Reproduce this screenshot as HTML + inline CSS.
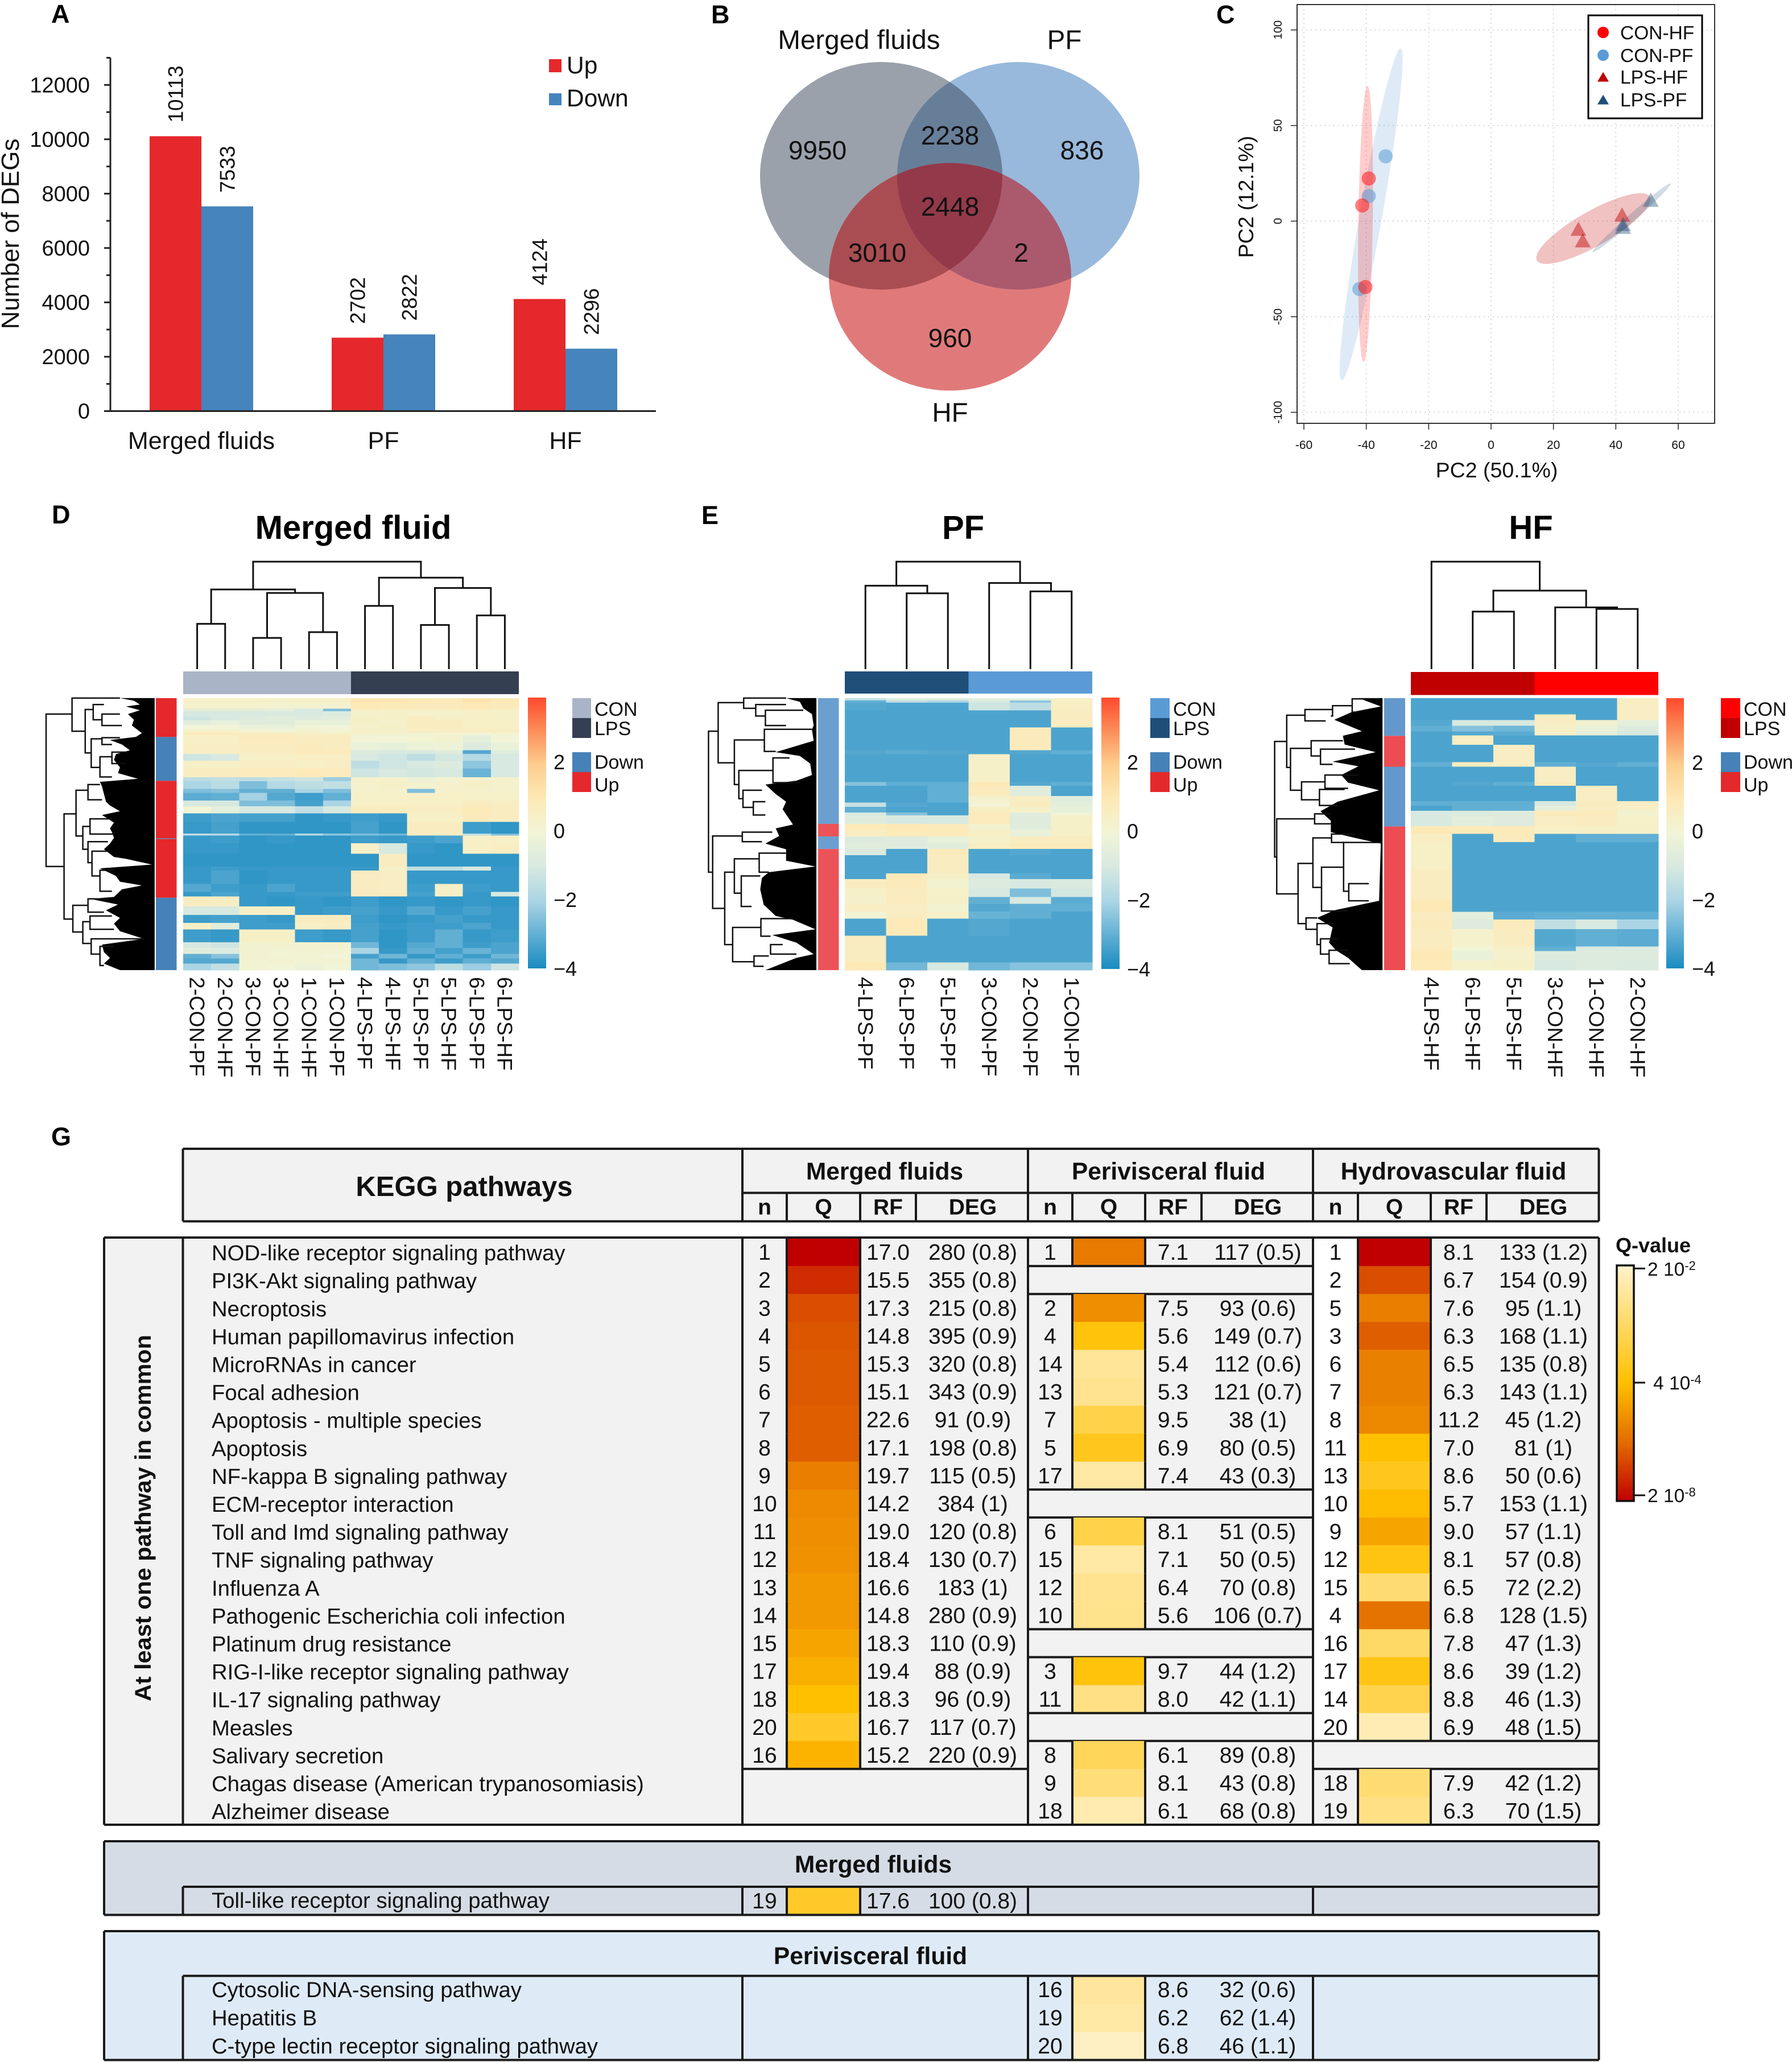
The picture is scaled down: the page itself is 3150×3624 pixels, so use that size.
<!DOCTYPE html>
<html lang="en">
<head>
<meta charset="utf-8">
<title>DEG analysis figure</title>
<style>
html,body{margin:0;padding:0;background:#fff;}
svg{display:block;font-family:"Liberation Sans",Arial,sans-serif;fill:#000;}
</style>
</head>
<body>
<svg xmlns="http://www.w3.org/2000/svg" width="3150" height="3624" viewBox="0 0 3150 3624">
<defs id="defs"></defs>
<rect x="0" y="0" width="3150" height="3624" fill="#ffffff"/>
<g id="panel-a"></g>
<g id="panel-b"></g>
<g id="panel-c"></g>
<g id="panel-d"></g>
<g id="panel-e"></g>
<g id="panel-f"></g>
<g id="panel-g"></g>
<g id="panel-letters"></g>
</svg>
<script>
/* ---------- Panel A data ---------- */
const degCategories=['Merged fluids','PF','HF'];
const degUp=[10113,2702,4124];
const degDown=[7533,2822,2296];
const degTicks=[0,2000,4000,6000,8000,10000,12000];
const degMinorTicks=[1000,3000,5000,7000,9000,11000,13000];
/* ---------- Panel B data ---------- */
const vennCounts=[9950,2238,836,3010,2448,2,960];
const vennSets=['Merged fluids','PF','HF'];
/* ---------- Panel C data (data units) ---------- */
const pcaXTicks=[-60,-40,-20,0,20,40,60];
const pcaYTicks=[-100,-50,0,50,100];
const conHfX=[-39.2,-41.3,-40.3];
const conHfY=[22.3,8.2,-34.5];
const conPfX=[-33.8,-39.2,-42.2];
const conPfY=[33.9,13.1,-35.5];
const lpsHfX=[28.0,29.4,42.0];
const lpsHfY=[-4,-10,3.4];
const lpsPfX=[51.2,42.3,42.3];
const lpsPfY=[11.2,-1.5,-3];
const pcaLegend=['CON-HF','CON-PF','LPS-HF','LPS-PF'];
/* ellipse major-axis tips x1,y1,x2,y2 and half width */
const conHfEllipse=[-39.6,70.8,-40.9,-73.7,2.3];
const conPfEllipse=[-29,90.3,-47.9,-83.2,3.6];
const lpsHfEllipse=[50.9,12.8,14.7,-20.6,5.6];
const lpsPfEllipse=[57.6,19.7,32.6,-16.2,1.2];
/* ---------- Heatmap data: [rows, ...z-score per column] ---------- */
const heatTicks=[2,0,-2,-4];
const mergedColumns=['2-CON-PF','2-CON-HF','3-CON-PF','3-CON-HF','1-CON-HF','1-CON-PF','4-LPS-PF','4-LPS-HF','5-LPS-PF','5-LPS-HF','6-LPS-PF','6-LPS-HF'];
const mergedCells=[
[12,.4,.4,.4,.4,.5,.5,1.1,1.1,1,.9,1.2,1],
[15,.3,.3,.3,.2,.2,.2,1,.9,.8,.8,1,.8],
[7,-.5,-.5,-.5,-.5,-1,-2.6,.6,.5,.5,.5,.6,.5],
[12,-1,-1,-1,-.9,-1,-.8,.3,.4,.3,.3,.5,.4],
[11,-1.2,-1,-.7,-.6,-.7,-.6,.4,.4,.7,.5,.5,.4],
[12,-.6,-.4,-.6,-.6,-.3,-.4,.4,.3,.7,.7,.4,.4],
[11,0,0,-.3,-.4,0,0,.3,.4,.7,.7,.5,.5],
[9,.3,.3,.1,0,.2,.1,.5,.4,.6,.6,.6,.6],
[6,1,.9,.7,.7,.5,.5,.2,.2,.1,.2,0,.2],
[20,.5,.5,.8,.8,.7,.7,0,0,.1,.2,-.5,0],
[19,.6,.6,.7,.7,.8,.7,-.3,-.4,-.2,-.1,-.8,-.3],
[10,.6,.6,.6,.6,.8,.8,-.9,-1,-1,-.7,-3.2,-.7],
[17,-1.2,-1,.5,.5,.6,.6,-1,-1.2,-1.6,-1.1,-1.8,-1],
[20,.5,.5,.6,.6,.5,.6,-1.6,-1.2,-1,-.8,-2.4,-1],
[23,.7,.7,.8,.8,.9,.8,-1.2,-1,-1.1,-1,-2.9,-1],
[10,-1.6,-1.5,-1.6,-1.4,-1.2,-2.2,.3,.3,-.2,.2,.3,.3],
[20,-2,-1.7,-2.6,-1.8,-1.6,-1.5,.3,.4,.2,.3,.4,.3],
[10,-2.6,-2.5,-3,-3,-2,-2.6,.3,.3,-2.6,.3,.3,.3],
[20,-3.1,-3,-2.1,-3.2,-3.5,-3,.4,.4,.5,.5,.4,.4],
[15,-1,-1,-2.6,-2.6,-3.4,-2,.5,.5,.5,.5,.7,.6],
[18,0,-.5,-1,-1,-1.5,-1,.7,.7,.6,.6,.9,.7],
[22,-3.5,-3.3,-3.4,-3.4,-3.7,-3.6,-3.5,-3.6,.5,.5,.8,.7],
[30,-3.6,-3.4,-3.7,-3.7,-3.7,-3.7,-3.4,-3.7,.7,.7,-3.5,-3.7],
[5,-1.6,-1.8,-3,-3,-1.8,-2.4,-2.6,-2.8,.6,.6,-1.5,-2.6],
[20,-3.6,-3.5,-3.7,-3.6,-3.7,-3.7,-3.5,-3.6,-3.5,-3.3,.5,.5],
[27,-3.6,-3.6,-3.7,-3.7,-3.7,-3.7,.5,-1,-3.6,-3.7,.5,.6],
[33,-3.7,-3.7,-3.7,-3.7,-3.7,-3.7,-3.7,.7,-3.7,-3.7,-3.7,-3.7],
[10,-3.6,-3.5,-3.6,-3.6,-3.6,-3.6,-3.6,.5,-1.5,-1.5,-1,-3.6],
[35,-3.6,-3.3,-3.7,-3.6,-3.6,-3.6,.7,.6,-3.6,-3.6,-3.6,-3.6],
[20,-3.2,-3.5,-3.6,-3.3,-3.6,-3.6,.7,.6,-3.5,.5,-3.5,-3.6],
[12,-3.6,-3.3,-3.6,-3.6,-3.5,-3.5,.7,.7,-3.4,.4,-3.6,-1],
[26,.7,.6,-3.6,-3.7,-3.6,-3.7,-3.5,-3.7,-3.6,-3.7,-3.6,-3.7],
[22,-1,-1,.5,.5,-3.6,-3.5,-3.4,-3.6,-3.2,-3.6,-3.4,-3.6],
[20,-3.5,-3.4,-3.5,-3.6,.7,.7,-3.5,-3.7,-3.6,-3.4,-3.6,-3.6],
[17,.5,-.6,-3.5,-3.5,.5,.6,-3.4,-3.6,-3.5,-3.5,-3.3,-3.6],
[33,-3.5,-3.6,.5,.5,-3.5,-3.6,-3.4,-3.7,-3.5,-3,-3.6,-3.5],
[15,-1,-1.2,.2,.2,.2,.2,-2.8,-3.7,-3.2,-3,-3.5,-3.3],
[15,-.6,-.8,.2,.1,.2,.1,-2,-3.6,-3,-3.4,-2.9,-3.3],
[12,-3,-2.5,.2,.1,.1,0,-3.4,-2.8,-3.6,-3,-3.5,-2.8],
[13,-3.2,-3.2,.1,.2,.1,.1,-2.8,-3.6,-3,-3.5,-3,-3.2],
[17,-2,-1.5,.1,0,-.2,0,-2.8,-2.6,-2.4,-1.6,-2.2,-1.2]
];
const pfColumns=['4-LPS-PF','6-LPS-PF','5-LPS-PF','3-CON-PF','2-CON-PF','1-CON-PF'];
const pfCells=[
[6,-1.5,-.6,-.8,-.5,-.5,.5],
[6,-3,-1.6,-2,-1,-2.4,.5],
[20,-3.2,-3.3,-3.3,-1.2,-1.6,.6],
[45,-3.3,-3.3,-3.3,-3.3,-3.3,.7],
[60,-3.3,-3.3,-3.3,-3.3,.8,-3.3],
[10,-3.2,-3.1,-3.2,-3.3,-3.2,-3],
[73,-3.3,-3.3,-3.3,.4,-3.3,-3.3],
[10,-2.5,-3,-3,1,-3.2,-3],
[27,-3.3,-3.3,-3,.8,-.6,-3.3],
[17,-3.3,-3.3,-3,.3,.6,-.6],
[11,-1.4,-3.2,-3.3,0,.7,-.5],
[15,-3,-3.3,-3.3,.6,.4,-.4],
[8,-1,-2.5,-3.3,.9,-.6,0],
[22,-.7,-1,-1,.8,-.7,.4],
[16,.9,1,.8,.2,-.6,.4],
[17,.6,.9,.9,.5,-.3,.5],
[17,-.8,-.7,-.4,.4,.7,.7],
[16,-.6,-.7,-.6,.6,.8,.8],
[16,-.9,-3.3,.8,-3.3,-3.2,-3.3],
[48,-3.3,-3.3,.7,-3.3,-3.3,-3.3],
[15,-3.3,.9,.5,-1,-3.1,-3.3],
[25,.7,.8,.2,-.8,-1,-.9],
[22,.4,.7,.4,-1,-2.6,-1.1],
[18,.3,.8,.4,-3,-1,-3.1],
[20,.6,.6,.2,-3.2,-3,-3],
[19,.1,.7,.4,-2.9,-3,-3.3],
[45,-3.3,.9,-3.3,-3.2,-3.3,-3.3],
[70,.7,-3.3,-3.3,-3.3,-3.3,-3.3],
[20,1,-2.8,-1,-2.8,-2.5,-2.5]
];
const hfColumns=['4-LPS-HF','6-LPS-HF','5-LPS-HF','3-CON-HF','1-CON-HF','2-CON-HF'];
const hfCells=[
[42,-3.3,-3.3,-3.3,-3.3,-3.3,.6],
[15,-3.3,-3.3,-3.3,.7,-3.3,.6],
[15,-3.2,-1,-1,.6,.2,-.5],
[15,-3,-2.5,-2.8,.5,-.3,-.8],
[10,-3.3,-3.2,-3.1,.4,-.5,-1],
[25,-3.3,.6,-3.3,-3.3,-3.3,-3.3],
[45,-3.3,-3.3,.6,-3.3,-3.3,-3.3],
[12,-3,.7,.6,-3,-3.2,-3],
[40,-3.3,-3.3,-3.3,.6,-3.3,-3.3],
[10,-3.3,-3.2,-3,.8,-3.3,-3.3],
[40,-3.3,-3.3,-3.3,-3.3,.6,-3.3],
[12,-3,-3,-3,-1,.7,.6],
[13,-3.3,-3,-3,-.5,.6,.5],
[15,-1,-.8,-.7,.8,.8,.2],
[25,-1,-.5,-.7,.6,.7,.4],
[20,1,.9,.9,.5,.5,.4],
[22,.6,-3.3,.8,-3.3,-3,-3],
[70,.5,-3.3,-3.3,-3.3,-3.3,-3.3],
[80,.7,-3.3,-3.3,-3.3,-3.3,-3.3],
[32,1,-3.3,-3.3,-3.3,-3.3,-3.3],
[20,.7,-.5,-3.1,-3,-3,-3],
[25,.8,-.7,.8,-1.5,-1,-2],
[45,.7,.3,.7,-3.2,-3,-3.1],
[12,.8,0,.4,-3,-.9,-.8],
[25,1,-.3,.3,-.8,-.8,-.8],
[25,.9,.3,.4,-1,-.8,-.9]
];
/* ---------- Panel G data ---------- */
const pathways=['NOD-like receptor signaling pathway','PI3K-Akt signaling pathway','Necroptosis','Human papillomavirus infection','MicroRNAs in cancer','Focal adhesion','Apoptosis - multiple species','Apoptosis','NF-kappa B signaling pathway','ECM-receptor interaction','Toll and Imd signaling pathway','TNF signaling pathway','Influenza A','Pathogenic Escherichia coli infection','Platinum drug resistance','RIG-I-like receptor signaling pathway','IL-17 signaling pathway','Measles','Salivary secretion','Chagas disease (American trypanosomiasis)','Alzheimer disease'];
const mergedN=[1,2,3,4,5,6,7,8,9,10,11,12,13,14,15,17,18,20,16,null,null];
const mergedQ=[-7.7,-6.84,-6.15,-5.98,-5.9,-5.9,-5.8,-5.8,-5.1,-4.78,-4.69,-4.6,-4.43,-4.43,-4.09,-3.83,-3.4,-3.06,-3.74,null,null];
const mergedRF=['17.0','15.5','17.3','14.8','15.3','15.1','22.6','17.1','19.7','14.2','19.0','18.4','16.6','14.8','18.3','19.4','18.3','16.7','15.2',null,null];
const mergedDEG=['280 (0.8)','355 (0.8)','215 (0.8)','395 (0.9)','320 (0.8)','343 (0.9)','91 (0.9)','198 (0.8)','115 (0.5)','384 (1)','120 (0.8)','130 (0.7)','183 (1)','280 (0.9)','110 (0.9)','88 (0.9)','96 (0.9)','117 (0.7)','220 (0.9)',null,null];
const pfN=[1,null,2,4,14,13,7,5,17,null,6,15,12,10,null,3,11,null,8,9,18];
const pfQ=[-5.2,null,-4.69,-3.3,-2.14,-2.2,-2.79,-3.16,-2.04,null,-2.79,-2.04,-2.2,-2.24,null,-3.3,-2.3,null,-2.65,-2.38,-1.94];
const pfRF=['7.1',null,'7.5','5.6','5.4','5.3','9.5','6.9','7.4',null,'8.1','7.1','6.4','5.6',null,'9.7','8.0',null,'6.1','8.1','6.1'];
const pfDEG=['117 (0.5)',null,'93 (0.6)','149 (0.7)','112 (0.6)','121 (0.7)','38 (1)','80 (0.5)','43 (0.3)',null,'51 (0.5)','50 (0.5)','70 (0.8)','106 (0.7)',null,'44 (1.2)','42 (1.1)',null,'89 (0.8)','43 (0.8)','68 (0.8)'];
const hfN=[1,2,5,3,6,7,8,11,13,10,9,12,15,4,16,17,14,20,null,18,19];
const hfQ=[-7.7,-6.15,-5.1,-5.8,-5.03,-5.03,-4.86,-3.4,-3.16,-3.49,-4.09,-3.26,-2.45,-5.38,-2.55,-3.23,-2.75,-1.9,null,-2.45,-2.3];
const hfRF=['8.1','6.7','7.6','6.3','6.5','6.3','11.2','7.0','8.6','5.7','9.0','8.1','6.5','6.8','7.8','8.6','8.8','6.9',null,'7.9','6.3'];
const hfDEG=['133 (1.2)','154 (0.9)','95 (1.1)','168 (1.1)','135 (0.8)','143 (1.1)','45 (1.2)','81 (1)','50 (0.6)','153 (1.1)','57 (1.1)','57 (0.8)','72 (2.2)','128 (1.5)','47 (1.3)','39 (1.2)','46 (1.3)','48 (1.5)',null,'42 (1.2)','70 (1.5)'];
const mergedOnlyRow=['Toll-like receptor signaling pathway',19,-3.06,'17.6','100 (0.8)'];
const pfOnlyNames=['Cytosolic DNA-sensing pathway','Hepatitis B','C-type lectin receptor signaling pathway'];
const pfOnlyN=[16,19,20];
const pfOnlyQ=[-2.1,-2.04,-1.77];
const pfOnlyRF=['8.6','6.2','6.8'];
const pfOnlyDEG=['32 (0.6)','62 (1.4)','46 (1.1)'];

/* ---------- helpers ---------- */
const NS='http://www.w3.org/2000/svg';
function add(parent,tag,attrs,txt){
  const e=document.createElementNS(NS,tag);
  for(const k in attrs){e.setAttribute(k,attrs[k]);}
  if(txt!==undefined&&txt!==null){e.textContent=txt;}
  parent.appendChild(e);
  return e;
}
function label(parent,x,y,str,size,anchor,extra){
  const a=Object.assign({x:x,y:y,'font-size':size,'text-anchor':anchor||'start',fill:'#111'},extra||{});
  return add(parent,'text',a,str);
}
function lerpHex(a,b,t){
  const pa=[1,3,5].map(i=>parseInt(a.substr(i,2),16));
  const pb=[1,3,5].map(i=>parseInt(b.substr(i,2),16));
  return 'rgb('+pa.map((v,i)=>Math.round(v+(pb[i]-v)*t)).join(',')+')';
}
function scaleColor(stops,v){
  if(v<=stops[0][0])return stops[0][1];
  for(let i=1;i<stops.length;i++){
    if(v<=stops[i][0]){return lerpHex(stops[i-1][1],stops[i][1],(v-stops[i-1][0])/(stops[i][0]-stops[i-1][0]));}
  }
  return stops[stops.length-1][1];
}
const zStops=[[-4,'#1a8bc0'],[-3,'#62afd4'],[-2,'#abd5e5'],[-1,'#d7e9e0'],[0,'#f1f4d6'],[1,'#fde9b6'],[2,'#fdcf8f'],[3,'#fc8f5a'],[4,'#ff4a2e']];
const qStops=[[-7.7,'#c00000'],[-5.55,'#e36c00'],[-3.4,'#ffc000'],[-2.55,'#ffd966'],[-1.7,'#fff2cc']];
const zColor=v=>scaleColor(zStops,v);
const qColor=v=>scaleColor(qStops,v);

/* ---------- Panel letters ---------- */
const lettersG=document.getElementById('panel-letters');
const letterItems=[['A',90,40],['B',1250,41],['C',2138,41],['D',91,920],['E',1233,921],['G',90,2013]];
letterItems.forEach(function(it){
  const el=label(lettersG,it[1],it[2],it[0],45,'start',{'font-weight':'bold',fill:'#000'});
  
  
});

/* ---------- Panel A ---------- */
(function(){
  const g=document.getElementById('panel-a');
  const yA=v=>722.5-v*0.04777;
  const xA=i=>354+i*320;
  const barW=91;
  degCategories.forEach(function(cat,i){
    const up=add(g,'rect',{x:xA(i)-barW,y:yA(degUp[i]),width:barW,height:yA(0)-yA(degUp[i]),fill:'#e5282b'});
    
    
    const dn=add(g,'rect',{x:xA(i),y:yA(degDown[i]),width:barW,height:yA(0)-yA(degDown[i]),fill:'#4584bc'});
    
    
    const xc=label(g,xA(i),789,cat,43,'middle');
    
    
    const lx1=xA(i)-barW/2+13, lx2=xA(i)+barW/2+13, ly1=yA(degUp[i])-24, ly2=yA(degDown[i])-24;
    const v1=label(g,lx1,ly1,degUp[i],37,'start',{transform:'rotate(-90 '+lx1+' '+ly1+')'});
    
    
    const v2=label(g,lx2,ly2,degDown[i],37,'start',{transform:'rotate(-90 '+lx2+' '+ly2+')'});
    
    
  });
  const yAxis=add(g,'line',{x1:194,x2:194,y1:yA(13000),y2:yA(0),stroke:'#222','stroke-width':3});
  
  
  const xAxis=add(g,'line',{x1:183,x2:1153,y1:yA(0),y2:yA(0),stroke:'#222','stroke-width':3});
  
  
  degTicks.forEach(function(t){
    const tk=add(g,'line',{x1:183,x2:194,y1:yA(t),y2:yA(t),stroke:'#222','stroke-width':3});
    
    
    const tl=label(g,158,yA(t)+13,t,38,'end');
    
    
  });
  degMinorTicks.forEach(function(t){
    const tk=add(g,'line',{x1:187,x2:194,y1:yA(t),y2:yA(t),stroke:'#222','stroke-width':3});
    
    
  });
  const yt=label(g,33,411,'Number of DEGs',44,'middle',{transform:'rotate(-90 33 411)'});
  
  
  const s1=add(g,'rect',{x:965,y:104,width:22,height:23,fill:'#e5282b'});
  
  
  const s2=add(g,'rect',{x:965,y:164,width:22,height:21,fill:'#4584bc'});
  
  
  const l1=label(g,996,129,'Up',42.5);
  
  
  const l2=label(g,996,187,'Down',42.5);
  
  
})();

/* ---------- Panel B ---------- */
(function(){
  const g=document.getElementById('panel-b');
  const defs=document.getElementById('defs');
  const E={g:[1549,309],b:[1790,309],r:[1670,486.5]};
  ['g','b','r'].forEach(function(k){
    const c=add(defs,'clipPath',{id:'clip-'+k});
    add(c,'ellipse',{cx:E[k][0],cy:E[k][1],rx:213,ry:200});
  });
  function ell(k,fill,clip){
    const a={cx:E[k][0],cy:E[k][1],rx:213,ry:200,fill:fill};
    if(clip){a['clip-path']='url(#clip-'+clip+')';}
    return add(g,'ellipse',a);
  }
  const a1=ell('g','#9aa1ab');
  
  
  const a2=ell('b','#98b9dc');
  
  
  const a3=ell('g','#677e99','b');
  
  
  const a4=ell('r','#e07a7a');
  
  
  const a5=ell('r','#a94d52','g');
  
  
  const a6=ell('r','#ab5a6e','b');
  
  
  const holder=add(g,'g',{'clip-path':'url(#clip-g)'});
  const a7=add(holder,'ellipse',{cx:E.r[0],cy:E.r[1],rx:213,ry:200,fill:'#93394a','clip-path':'url(#clip-b)'});
  
  
  const setPos=[[1510,86],[1871,86],[1670,741]];
  vennSets.forEach(function(s,i){
    const t=label(g,setPos[i][0],setPos[i][1],s,47.5,'middle');
    
    
  });
  const regionPos=[[1437,280],[1670,254],[1902,280],[1542,460],[1670,379],[1795,460],[1670,610]];
  vennCounts.forEach(function(c,i){
    const t=label(g,regionPos[i][0],regionPos[i][1],c,46,'middle');
    
    
  });
})();

/* ---------- Panel C ---------- */
(function(){
  const g=document.getElementById('panel-c');
  const X=v=>2621+v*5.483;
  const Y=v=>388.6-v*3.36;
  const box={l:2280,r:3014,t:8,b:744};
  pcaXTicks.forEach(function(t){
    const gl=add(g,'line',{x1:X(t),x2:X(t),y1:box.t,y2:box.b,stroke:'#d5d5d5','stroke-width':2,'stroke-dasharray':'2 6'});
    
    
    const tk=add(g,'line',{x1:X(t),x2:X(t),y1:box.b,y2:box.b+11,stroke:'#222','stroke-width':1.5});
    
    
    const tl=label(g,X(t),789,t,21,'middle');
    
    
  });
  pcaYTicks.forEach(function(t){
    const gl=add(g,'line',{x1:box.l,x2:box.r,y1:Y(t),y2:Y(t),stroke:'#d5d5d5','stroke-width':2,'stroke-dasharray':'2 6'});
    
    
    const tk=add(g,'line',{x1:box.l-11,x2:box.l,y1:Y(t),y2:Y(t),stroke:'#222','stroke-width':1.5});
    
    
    const tl=label(g,2253,Y(t),t,20,'middle',{transform:'rotate(-90 2253 '+Y(t)+')'});
    
    
  });
  function drawEllipse(d,fill,op){
    const x1=X(d[0]),y1=Y(d[1]),x2=X(d[2]),y2=Y(d[3]);
    const cx=(x1+x2)/2,cy=(y1+y2)/2,rx=Math.hypot(x2-x1,y2-y1)/2;
    const ang=Math.atan2(y2-y1,x2-x1)*180/Math.PI;
    return add(g,'ellipse',{cx:cx,cy:cy,rx:rx,ry:d[4]*5.483,fill:fill,'fill-opacity':op,transform:'rotate('+ang+' '+cx+' '+cy+')'});
  }
  const e2=drawEllipse(conPfEllipse,'#5b9bd5',0.2);
  
  
  const e1=drawEllipse(conHfEllipse,'#ff0000',0.2);
  
  
  const e3=drawEllipse(lpsHfEllipse,'#c00000',0.24);
  
  
  const e4=drawEllipse(lpsPfEllipse,'#1f4e79',0.2);
  
  
  conPfX.forEach(function(v,i){
    const p=add(g,'circle',{cx:X(v),cy:Y(conPfY[i]),r:12.5,fill:'#5b9bd5','fill-opacity':0.55});
    
    
  });
  conHfX.forEach(function(v,i){
    const p=add(g,'circle',{cx:X(v),cy:Y(conHfY[i]),r:12.5,fill:'#ff1a1a','fill-opacity':0.55});
    
    
  });
  function tri(x,y,w,h){return (x)+','+(y-h/2)+' '+(x+w/2)+','+(y+h/2)+' '+(x-w/2)+','+(y+h/2);}
  lpsHfX.forEach(function(v,i){
    const p=add(g,'polygon',{points:tri(X(v),Y(lpsHfY[i]),28,25),fill:'#c00000','fill-opacity':0.45});
    
    
  });
  lpsPfX.forEach(function(v,i){
    const p=add(g,'polygon',{points:tri(X(v),Y(lpsPfY[i]),28,25),fill:'#1f4e79','fill-opacity':0.4});
    
    
  });
  const fr=add(g,'rect',{x:box.l,y:box.t,width:box.r-box.l,height:box.b-box.t,fill:'none',stroke:'#333','stroke-width':2});
  
  
  const xt=label(g,2631,839,'PC2 (50.1%)',37.5,'middle');
  
  
  const yt=label(g,2203,346,'PC2 (12.1%)',37.5,'middle',{transform:'rotate(-90 2203 346)'});
  
  
  const lb=add(g,'rect',{x:2792,y:27,width:200,height:181,fill:'#fff',stroke:'#000','stroke-width':3});
  
  
  const lgY=[57,97,135,175];
  const lgC=['#ff0000','#5b9bd5','#c00000','#1f4e79'];
  pcaLegend.forEach(function(n,i){
    let m;
    if(i<2){m=add(g,'circle',{cx:2818,cy:lgY[i],r:10,fill:lgC[i]});}
    else{m=add(g,'polygon',{points:tri(2818,lgY[i],20,17),fill:lgC[i]});}
    
    
    const t=label(g,2848,lgY[i]+12,n,33.5);
    
    
  });
})();

/* ---------- Panels D/E/F ---------- */
const zoomY=v=>880+v*0.6696;
function drawHeatmap(cfg){
  const g=document.getElementById(cfg.id);
  const zx=v=>cfg.off+v*cfg.xf;
  const colW=(cfg.hx1-cfg.hx0)/cfg.columns.length;
  const colX=i=>cfg.hx0+colW*(i+0.5);
  const hy0=1227,hy1=1705;
  const t=label(g,cfg.titleX,947,cfg.title,58,'middle',{'font-weight':'bold',fill:'#000'});
  
  
  /* column dendrogram */
  const base=1176;
  function tree(node){
    if(typeof node==='number'){return {x:colX(node),y:base};}
    const A=tree(node[1]),B=tree(node[2]),y=base-node[0]*0.6696;
    const p=add(g,'path',{d:'M'+A.x+' '+A.y+'V'+y+'H'+B.x+'V'+B.y,fill:'none',stroke:'#111','stroke-width':3});
    
    
    return {x:(A.x+B.x)/2,y:y};
  }
  tree(cfg.colTree);
  /* column annotation */
  const n=cfg.columns.length;
  const first=add(g,'rect',{x:cfg.hx0,y:cfg.barY0,width:colW*n/2,height:cfg.barY1-cfg.barY0,fill:cfg.barColors[0]});
  
  
  const second=add(g,'rect',{x:cfg.hx0+colW*n/2,y:cfg.barY0,width:colW*n/2,height:cfg.barY1-cfg.barY0,fill:cfg.barColors[1]});
  
  
  /* cells */
  const total=cfg.cells.reduce((s,r)=>s+r[0],0);
  let acc=0;
  cfg.cells.forEach(function(r){
    const y=hy0+(hy1-hy0)*acc/total;
    const h=(hy1-hy0)*r[0]/total;
    acc+=r[0];
    for(let c=1;c<r.length;c++){
      const cell=add(g,'rect',{x:cfg.hx0+colW*(c-1),y:y,width:colW+0.4,height:h+0.4,fill:zColor(r[c]),'shape-rendering':'crispEdges'});
      
      
    }
  });
  /* column labels */
  cfg.columns.forEach(function(name,i){
    const x=colX(i)-13;
    const tl=label(g,x,1717,name,37,'start',{transform:'rotate(90 '+x+' 1717)'});
    
    
  });
  /* row annotation */
  const annTotal=cfg.rowAnn.reduce((s,r)=>s+r[0],0);
  let a2=0;
  cfg.rowAnn.forEach(function(r){
    const y=hy0+(hy1-hy0)*a2/annTotal;
    const h=(hy1-hy0)*r[0]/annTotal;
    a2+=r[0];
    const ra=add(g,'rect',{x:cfg.ann0,y:y,width:cfg.ann1-cfg.ann0,height:h,fill:r[1]==='Up'?cfg.upColor:cfg.downColor});
    
    
  });
  /* row dendrogram: dense block plus hand-read upper branches */
  let d='M'+zx(cfg.blockRight)+' '+zoomY(518);
  cfg.profile.forEach(function(p){d+='L'+zx(p[1])+' '+zoomY(p[0]);});
  d+='L'+zx(cfg.blockRight)+' '+zoomY(1232)+'Z';
  const blk=add(g,'path',{d:d,fill:'#000'});
  
  
  cfg.brackets.forEach(function(b){
    const br=add(g,'path',{d:'M'+zx(b[2])+' '+zoomY(b[1])+'H'+zx(b[0])+'V'+zoomY(b[3])+'H'+zx(b[4]),fill:'none',stroke:'#111','stroke-width':2.5});
    
    
  });
  /* colour bar */
  const bar=add(g,'rect',{x:cfg.cb0,y:cfg.cbTop,width:cfg.cb1-cfg.cb0,height:cfg.cbBot-cfg.cbTop,fill:'url(#zgrad)'});
  
  
  const pxPerZ=(cfg.cbBot-cfg.cbTop)/7.87;
  heatTicks.forEach(function(v){
    const y=cfg.cbBot-(v+4)*pxPerZ;
    const tk=label(g,cfg.cbLabelX,y+13,v<0?'\u2212'+Math.abs(v):v,36);
    
    
  });
  /* legend */
  const lg=[['CON',cfg.barColors[cfg.conIdx],1227,35,1258],['LPS',cfg.barColors[1-cfg.conIdx],1262,35,1292],['Down','#4682b8',1322,35,1351],['Up','#e5282b',1357,35,1391]];
  lg.forEach(function(it){
    const s=add(g,'rect',{x:cfg.lg0,y:it[2],width:cfg.lg1-cfg.lg0,height:it[3],fill:it[1]});
    
    
    const tx=label(g,cfg.lg1+6,it[4],it[0],34);
    
    
  });
}
(function(){
  const defs=document.getElementById('defs');
  const gr=add(defs,'linearGradient',{id:'zgrad',x1:0,y1:1,x2:0,y2:0});
  zStops.forEach(function(s){add(gr,'stop',{offset:(s[0]+4)/8,'stop-color':s[1]});});
  const gq=add(defs,'linearGradient',{id:'qgrad',x1:0,y1:1,x2:0,y2:0});
  [[0,'#c00000'],[.25,'#e36c00'],[.5,'#ffc000'],[.75,'#ffd966'],[1,'#fff2cc']].forEach(function(s){add(gq,'stop',{offset:s[0],'stop-color':s[1]});});
})();
drawHeatmap({
  id:'panel-d',title:'Merged fluid',titleX:621,off:60,xf:0.7015,hx0:322,hx1:912,columns:mergedColumns,cells:mergedCells,
  colTree:[282,[209,[119,0,1],[200,[82,2,3],[97,4,5]]],[240,[166,6,7],[213,[116,8,9],[141,10,11]]]],
  barY0:1180,barY1:1220,barColors:['#a9b4c7','#353f52'],conIdx:0,
  rowAnn:[[102,'Up'],[115,'Down'],[151,'Up'],[2,'Down'],[154,'Up'],[190,'Down']],ann0:274,ann1:310.5,upColor:'#e5282b',downColor:'#4682b8',
  blockRight:302,
  profile:[[518,215],[525,250],[535,265],[540,230],[550,265],[560,235],[575,250],[590,245],[610,270],[620,255],[628,190],[640,220],[655,240],[665,205],[680,200],[700,215],[715,210],[730,260],[738,165],[750,170],[770,175],[790,180],[800,190],[815,215],[825,170],[845,200],[860,190],[870,195],[885,200],[900,190],[915,175],[935,200],[940,230],[955,295],[965,165],[985,205],[1000,215],[1010,270],[1020,220],[1040,200],[1045,140],[1060,210],[1075,180],[1095,215],[1110,200],[1130,215],[1150,275],[1165,170],[1185,175],[1200,190],[1215,175],[1232,215]],
  brackets:[[30,560,95,960,75],[95,518,215,605,128],[128,548,148,662,143],[148,535,175,575,170],[170,560,215,590,220],[143,625,170,700,165],[170,622,215,640,195],[165,672,195,725,195],[195,660,235,690,230],[75,822,105,1098,97],[105,760,135,880,122],[135,745,165,785,170],[122,855,140,915,135],[140,835,195,875,200],[135,895,185,950,145],[145,920,185,985,165],[165,970,200,1025,195],[97,1062,135,1132,122],[135,1045,190,1080,175],[122,1105,140,1162,143],[140,1090,195,1125,200],[143,1150,275,1190,165],[165,1170,200,1220,175]],
  cb0:928,cb1:960,cbTop:1226,cbBot:1702,cbLabelX:973,lg0:1006,lg1:1039
});
drawHeatmap({
  id:'panel-e',title:'PF',titleX:1693,off:1200,xf:0.6059,hx0:1485,hx1:1920,columns:pfColumns,cells:pfCells,
  colTree:[282,[219,0,[199,1,2]],[226,3,[204,4,5]]],
  barY0:1180,barY1:1219,barColors:['#1f4e79','#5b9bd5'],conIdx:1,
  rowAnn:[[330,'Down'],[33,'Up'],[33,'Down'],[318,'Up']],ann0:1438,ann1:1474.5,upColor:'#ec5358',downColor:'#6a9fd0',
  blockRight:388,
  profile:[[518,300],[528,340],[545,350],[560,375],[590,380],[600,375],[630,380],[660,270],[670,340],[690,370],[720,375],[735,330],[745,240],[770,270],[790,300],[810,290],[850,320],[860,270],[880,280],[900,240],[915,300],[945,300],[960,385],[975,250],[990,230],[1020,225],[1060,235],[1090,270],[1100,320],[1125,385],[1140,260],[1160,330],[1190,380],[1200,330],[1232,240]],
  brackets:[[75,605,103,975,87],[103,530,177,688,150],[177,518,300,545,212],[212,535,300,565,240],[240,550,350,590,300],[150,628,237,745,163],[237,600,375,658,270],[163,708,262,782,175],[262,675,310,740,340],[175,760,230,805,205],[205,790,240,825,240],[87,880,173,1070,122],[173,870,260,895,230],[122,975,150,1165,145],[150,940,222,1030,170],[222,925,300,975,250],[170,985,225,1065,200],[145,1120,227,1210,207],[227,1097,320,1143,255],[207,1195,250,1222,235],[255,1165,290,1190,330]],
  cb0:1936,cb1:1968,cbTop:1226,cbBot:1703,cbLabelX:1981,lg0:2022,lg1:2056
});
drawHeatmap({
  id:'panel-f',title:'HF',titleX:2691,off:2200,xf:0.6059,hx0:2480,hx1:2915,columns:hfColumns,cells:hfCells,
  colTree:[282,0,[206,[151,1,2],[162,3,[158,4,5]]]],
  barY0:1181,barY1:1221.5,barColors:['#c00000','#ff0000'],conIdx:1,
  rowAnn:[[99,'Down'],[81,'Up'],[157,'Down'],[377,'Up']],ann0:2433,ann1:2470,upColor:'#ec4c52',downColor:'#6398cc',
  blockRight:380,
  profile:[[518,310],[540,375],[555,290],[575,240],[605,320],[617,265],[640,270],[660,360],[685,235],[697,310],[720,260],[740,280],[760,370],[790,250],[815,200],[840,230],[870,230],[885,300],[900,375],[1050,370],[1075,240],[1095,190],[1120,235],[1160,225],[1180,245],[1200,280],[1232,320]],
  brackets:[[67,632,102,935,73],[102,563,155,700,113],[155,548,235,578,215],[235,538,292,565,230],[292,520,370,555,310],[113,650,173,760,145],[173,630,265,670,200],[200,652,300,692,235],[145,738,213,785,197],[213,720,310,755,280],[197,758,270,800,250],[73,835,183,1032,135],[183,822,230,848,230],[135,952,178,1110,158],[178,885,232,1015,203],[232,875,300,897,267],[203,962,267,1077,280],[267,897,375,1025,282],[282,1005,340,1050,340],[158,1095,190,1125,190],[190,1110,240,1165,200],[200,1150,250,1190,225],[225,1180,280,1215,285]],
  cb0:2929,cb1:2960,cbTop:1227,cbBot:1702,cbLabelX:2974,lg0:3025,lg1:3059
});

/* ---------- Panel G ---------- */
(function(){
  const g=document.getElementById('panel-g');
  const rowTop=2176,rowH=49.1;
  const rowY=i=>rowTop+rowH*i;
  const X={l:183,i:321.5,p:1305,n1:1383,q1:1512,rf1:1610,m:1807,n2:1885,q2:2013,rf2:2112,h:2308,n3:2387,q3:2515,rf3:2613,r:2810.5};
  const lineW=4;
  function ln(x1,y1,x2,y2){return add(g,'line',{x1:x1,y1:y1,x2:x2,y2:y2,stroke:'#1a1a1a','stroke-width':lineW});}
  const fills=[[X.i,2019,X.r-X.i,127.5,'#f2f2f2'],[X.l,2175,X.r-X.l,1032,'#f2f2f2'],[X.l,3236,X.r-X.l,129.5,'#d6dce5'],[X.l,3394,X.r-X.l,227,'#deebf7']];
  fills.forEach(function(f){
    const r=add(g,'rect',{x:f[0],y:f[1],width:f[2],height:f[3],fill:f[4]});
    
    
  });
  const hfWhite=add(g,'rect',{x:X.h,y:rowTop,width:X.n3-X.h,height:rowH*18,fill:'#ffffff'});
  
  
  /* header */
  const kegg=label(g,816,2102,'KEGG pathways',49,'middle',{'font-weight':'bold'});
  
  
  const groups=[['Merged fluids',1555],['Perivisceral fluid',2054],['Hydrovascular fluid',2555]];
  groups.forEach(function(it){
    const t=label(g,it[1],2073,it[0],42.5,'middle',{'font-weight':'bold'});
    
    
  });
  const subCenters=[[1344,1447.5,1561,1710],[1846,1949,2062,2211],[2347.5,2451,2564,2713]];
  const subNames=['n','Q','RF','DEG'];
  subCenters.forEach(function(set){
    set.forEach(function(x,i){
      const t=label(g,x,2134.5,subNames[i],39,'middle',{'font-weight':'bold'});
      
      
    });
  });
  /* rows */
  const cols=[
    {n:mergedN,q:mergedQ,rf:mergedRF,deg:mergedDEG,c:subCenters[0],q0:X.n1,q1:X.q1},
    {n:pfN,q:pfQ,rf:pfRF,deg:pfDEG,c:subCenters[1],q0:X.n2,q1:X.q2},
    {n:hfN,q:hfQ,rf:hfRF,deg:hfDEG,c:subCenters[2],q0:X.n3,q1:X.q3}
  ];
  pathways.forEach(function(name,i){
    const cy=rowY(i)+rowH/2;
    const nm=label(g,372,cy+14.5,name,38.3);
    
    
    cols.forEach(function(col,ci){
      if(col.n[i]===null){return;}
      const qc=add(g,'rect',{x:col.q0,y:rowY(i),width:col.q1-col.q0,height:rowH+0.5,fill:qColor(col.q[i])});
      
      
      const nt=label(g,col.c[0],cy+13.5,col.n[i],39,'middle');
      
      
      const rf=label(g,col.c[2],cy+13.5,col.rf[i],39,'middle');
      
      
      const dg=label(g,col.c[3],cy+13.5,col.deg[i],39,'middle');
      
      
      const v1=ln(col.q0,rowY(i),col.q0,rowY(i+1));
      
      
      const v2=ln(col.q1,rowY(i),col.q1,rowY(i+1));
      
      
    });
    /* borders around blank runs */
    [[pfN,X.m,X.h],[hfN,X.h,X.r],[mergedN,X.p,X.m]].forEach(function(b){
      if(b[0][i]===null){
        if(i===0||b[0][i-1]!==null){
          const a=ln(b[1],rowY(i),b[2],rowY(i));
          
          
        }
        if(i<20&&b[0][i+1]!==null){
          const c=ln(b[1],rowY(i+1),b[2],rowY(i+1));
          
          
        }
      }
    });
  });
  /* header lines */
  [[X.i,2019,X.r,2019],[X.i,2146.5,X.r,2146.5],[X.p,2096.5,X.r,2096.5],[X.i,2019,X.i,2146.5],[X.p,2019,X.p,2146.5],[X.m,2019,X.m,2146.5],[X.h,2019,X.h,2146.5],[X.r,2019,X.r,2146.5],
   [X.n1,2096.5,X.n1,2146.5],[X.q1,2096.5,X.q1,2146.5],[X.rf1,2096.5,X.rf1,2146.5],[X.n2,2096.5,X.n2,2146.5],[X.q2,2096.5,X.q2,2146.5],[X.rf2,2096.5,X.rf2,2146.5],[X.n3,2096.5,X.n3,2146.5],[X.q3,2096.5,X.q3,2146.5],[X.rf3,2096.5,X.rf3,2146.5]].forEach(function(p){
    const l=ln(p[0],p[1],p[2],p[3]);
    
    
  });
  /* body frame */
  [[X.l,2175,X.r,2175],[X.l,3207,X.r,3207],[X.l,2175,X.l,3207],[X.r,2175,X.r,3207],[X.i,2175,X.i,3207],[X.p,2175,X.p,3207],[X.m,2175,X.m,3207],[X.h,2175,X.h,3207]].forEach(function(p){
    const l=ln(p[0],p[1],p[2],p[3]);
    
    
  });
  const side=label(g,265,2668,'At least one pathway in common',40,'middle',{'font-weight':'bold',textLength:644,lengthAdjust:'spacingAndGlyphs',transform:'rotate(-90 265 2668)'});
  
  
  /* merged only */
  const mt=label(g,1535,3291,'Merged fluids',42.5,'middle',{'font-weight':'bold'});
  
  
  const mq=add(g,'rect',{x:X.n1,y:3316,width:X.q1-X.n1,height:49.5,fill:qColor(mergedOnlyRow[2])});
  
  
  const mn=label(g,372,3353,mergedOnlyRow[0],38.3);
  
  
  const mv=label(g,subCenters[0][0],3354,mergedOnlyRow[1],39,'middle');
  
  
  const mr=label(g,subCenters[0][2],3354,mergedOnlyRow[3],39,'middle');
  
  
  const md=label(g,subCenters[0][3],3354,mergedOnlyRow[4],39,'middle');
  
  
  [[X.l,3236,X.r,3236],[X.l,3365.5,X.r,3365.5],[X.l,3236,X.l,3365.5],[X.r,3236,X.r,3365.5],[X.i,3316,X.r,3316],[X.i,3316,X.i,3365.5],[X.p,3316,X.p,3365.5],[X.n1,3316,X.n1,3365.5],[X.q1,3316,X.q1,3365.5],[X.m,3316,X.m,3365.5],[X.h,3316,X.h,3365.5]].forEach(function(p){
    const l=ln(p[0],p[1],p[2],p[3]);
    
    
  });
  /* perivisceral only */
  const pt=label(g,1530,3452,'Perivisceral fluid',42.5,'middle',{'font-weight':'bold'});
  
  
  const pRow=i=>3472.6+49.3*i;
  pfOnlyNames.forEach(function(name,i){
    const cy=pRow(i)+24.6;
    const q=add(g,'rect',{x:X.n2,y:pRow(i),width:X.q2-X.n2,height:49.8,fill:qColor(pfOnlyQ[i])});
    
    
    const n=label(g,372,cy+13,name,38.3);
    
    
    const a=label(g,subCenters[1][0],cy+13,pfOnlyN[i],39,'middle');
    
    
    const b=label(g,subCenters[1][2],cy+13,pfOnlyRF[i],39,'middle');
    
    
    const c=label(g,subCenters[1][3],cy+13,pfOnlyDEG[i],39,'middle');
    
    
  });
  [[X.l,3394,X.r,3394],[X.l,3620.5,X.r,3620.5],[X.l,3394,X.l,3620.5],[X.r,3394,X.r,3620.5],[X.i,3472.6,X.r,3472.6],[X.i,3472.6,X.i,3620.5],[X.p,3472.6,X.p,3620.5],[X.m,3472.6,X.m,3620.5],[X.n2,3472.6,X.n2,3620.5],[X.q2,3472.6,X.q2,3620.5],[X.h,3472.6,X.h,3620.5]].forEach(function(p){
    const l=ln(p[0],p[1],p[2],p[3]);
    
    
  });
  /* Q colour legend */
  const qt=label(g,2840,2201,'Q-value',36,'start',{'font-weight':'bold'});
  
  
  const qb=add(g,'rect',{x:2842,y:2224,width:30,height:414,fill:'url(#qgrad)',stroke:'#111','stroke-width':3.5});
  
  
  const qTicks=[[2229.4,2896,2242,'2 10','-2'],[2430,2906,2442,'4 10','-4'],[2628,2896,2640,'2 10','-8']];
  qTicks.forEach(function(q){
    const tk=add(g,'line',{x1:2873,x2:2892,y1:q[0],y2:q[0],stroke:'#111','stroke-width':3});
    
    
    const tx=label(g,q[1],q[2],q[3],33.5);
    add(tx,'tspan',{dy:-10,'font-size':22},q[4]);
    
    
  });
})();
</script>
</body>
</html>
